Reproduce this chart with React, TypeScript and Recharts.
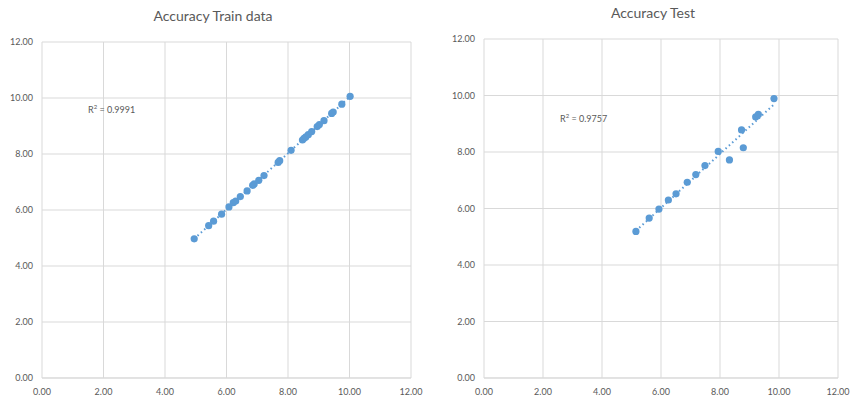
import { ScatterChart, Scatter, XAxis, YAxis, CartesianGrid } from "recharts";

const BLUE = "#5b9bd5";
const GRID = "#d9d9d9";
const TEXT = "#595959";

const axisTicks = [0, 2, 4, 6, 8, 10, 12];

const trainActual = [
    4.95, 5.42, 5.58, 5.84, 6.08, 6.22, 6.3, 6.45, 6.67, 6.85, 6.9, 7.05, 7.22,
    7.68, 7.73, 8.1, 8.47, 8.52, 8.58, 8.66, 8.77, 8.95, 9.02, 9.17, 9.42, 9.47,
    9.75, 10.02,
];
const trainPredicted = [
    4.97, 5.44, 5.6, 5.85, 6.11, 6.26, 6.32, 6.48, 6.68, 6.88, 6.93, 7.06, 7.23,
    7.7, 7.76, 8.13, 8.5, 8.56, 8.61, 8.69, 8.8, 8.98, 9.05, 9.19, 9.45, 9.5,
    9.78, 10.06,
];

const testActual = [
    5.15, 5.6, 5.93, 6.25, 6.51, 6.89, 7.18, 7.49, 7.94, 8.32, 8.73, 8.79, 9.21,
    9.3, 9.83,
];
const testPredicted = [
    5.19, 5.66, 5.98, 6.3, 6.52, 6.93, 7.2, 7.52, 8.02, 7.72, 8.78, 8.15, 9.24,
    9.33, 9.89,
];

function toPoints(xs: number[], ys: number[]) {
    return xs.map((x, i) => ({ x, y: ys[i] }));
}

// least squares line, drawn from min x to max x like the Excel trendline
function trend(xs: number[], ys: number[]) {
    const n = xs.length;
    const mx = xs.reduce((a, b) => a + b, 0) / n;
    const my = ys.reduce((a, b) => a + b, 0) / n;
    let sxy = 0;
    let sxx = 0;
    xs.forEach((x, i) => {
        sxy += (x - mx) * (ys[i] - my);
        sxx += (x - mx) * (x - mx);
    });
    const b = sxy / sxx;
    const a = my - b * mx;
    const lo = Math.min(...xs);
    const hi = Math.max(...xs);
    return [
        { x: lo, y: a + b * lo },
        { x: hi, y: a + b * hi },
    ];
}

const fmt = (v: number) => v.toFixed(2);

function Panel({
    xs,
    ys,
    width,
    top,
    right,
    yWidth,
}: {
    xs: number[];
    ys: number[];
    width: number;
    top: number;
    right: number;
    yWidth: number;
}) {
    const tick = { fontSize: 9, fill: TEXT, fontFamily: "Lato, 'Open Sans', sans-serif" };
    return (
        <ScatterChart
            width={width}
            height={403}
            margin={{ top, right, bottom: 0, left: 0 }}
        >
            <CartesianGrid stroke={GRID} strokeWidth={1} />
            <XAxis
                type="number"
                dataKey="x"
                domain={[0, 12]}
                ticks={axisTicks}
                tickFormatter={fmt}
                height={25}
                tickSize={0}
                tickMargin={11}
                stroke={GRID}
                tick={tick}
            />
            <YAxis
                type="number"
                dataKey="y"
                domain={[0, 12]}
                ticks={axisTicks}
                tickFormatter={fmt}
                width={yWidth}
                tickSize={0}
                tickMargin={9}
                axisLine={false}
                tick={tick}
            />
            <Scatter
                data={trend(xs, ys)}
                line={{ stroke: BLUE, strokeWidth: 2, strokeDasharray: "1.5 3" }}
                shape={() => null}
                isAnimationActive={false}
            />
            <Scatter
                data={toPoints(xs, ys)}
                fill={BLUE}
                shape={(p: any) => <circle cx={p.cx} cy={p.cy} r={3.6} fill={BLUE} />}
                isAnimationActive={false}
            />
        </ScatterChart>
    );
}

const titleStyle: React.CSSProperties = {
    position: "absolute",
    fontFamily: "Lato, 'Open Sans', sans-serif",
    fontSize: 14,
    color: TEXT,
    transform: "translateX(-50%)",
    whiteSpace: "nowrap",
};

const r2Style: React.CSSProperties = {
    position: "absolute",
    fontFamily: "Lato, 'Open Sans', sans-serif",
    fontSize: 9,
    color: TEXT,
    whiteSpace: "nowrap",
};

export default function App() {
    return (
        <div style={{ position: "relative", width: 854, height: 403, background: "#fff" }}>
            <style>{"body{margin:0}"}</style>
            <div style={{ position: "absolute", left: 0, top: 0 }}>
                <Panel xs={trainActual} ys={trainPredicted} width={430} top={42} right={19} yWidth={42} />
            </div>
            <div style={{ position: "absolute", left: 440, top: 0 }}>
                <Panel xs={testActual} ys={testPredicted} width={414} top={39} right={16} yWidth={44} />
            </div>
            <div style={{ ...titleStyle, left: 213, top: 7 }}>Accuracy Train data</div>
            <div style={{ ...titleStyle, left: 653, top: 4 }}>Accuracy Test</div>
            <div style={{ ...r2Style, left: 88, top: 103 }}>
                R<sup style={{ fontSize: 6 }}>2</sup> = 0.9991
            </div>
            <div style={{ ...r2Style, left: 560, top: 112 }}>
                R<sup style={{ fontSize: 6 }}>2</sup> = 0.9757
            </div>
        </div>
    );
}
